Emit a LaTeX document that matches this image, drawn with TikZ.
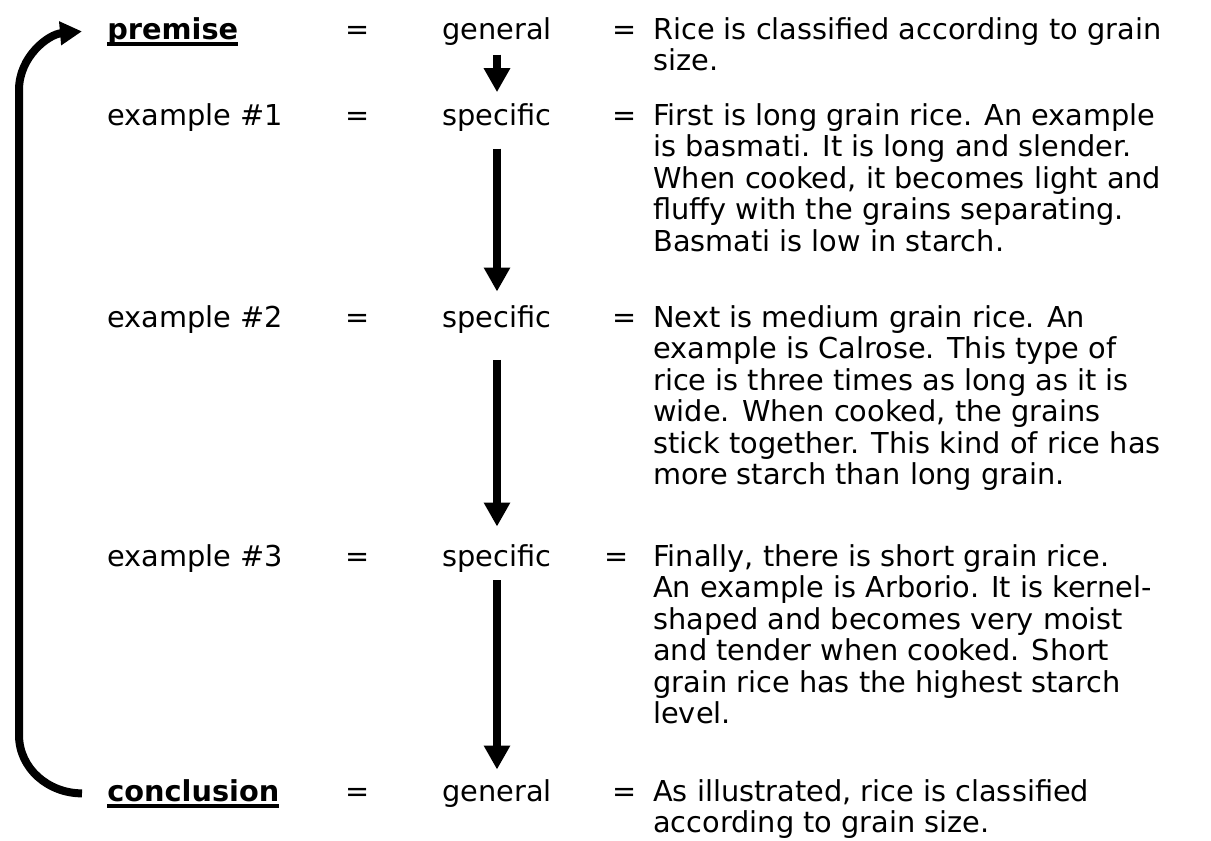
\documentclass[tikz,border=0pt]{standalone}
\usepackage{fontspec}
\setmainfont{DejaVu Sans}
\usetikzlibrary{arrows.meta,calc}

\newcommand{\undl}[1]{\setbox0\hbox{#1}\rlap{\rule[-0.23em]{\wd0}{0.12em}}\box0}

\begin{document}
\begin{tikzpicture}[x=0.75pt,y=-0.75pt,
        every node/.style={inner sep=0pt,font=\fontsize{21.6}{23.6}\selectfont},
        lbl/.style={anchor=base west},
        eqs/.style={anchor=base},
        mid/.style={anchor=base},
        txt/.style={anchor=north west,align=left},
        down/.style={line width=6pt,-{Triangle[length=18pt,width=18.75pt]}},
        back/.style={line width=6pt,-{Triangle[length=16.5pt,width=17pt]}}]
    \useasboundingbox (0,0) rectangle (1211,840);

    % left column
    \node[lbl] (prem)  at (107,39)  {\undl{\textbf{premise}}};
    \node[lbl] (ex1)   at (107,125) {example \#1};
    \node[lbl] (ex2)   at (107,327) {example \#2};
    \node[lbl] (ex3)   at (107,566) {example \#3};
    \node[lbl] (concl) at (107,801) {\undl{\textbf{conclusion}}};

    % first equals signs
    \node[eqs] (ea1) at (358,39)  {=};
    \node[eqs] (ea2) at (358,125) {=};
    \node[eqs] (ea3) at (358,327) {=};
    \node[eqs] (ea4) at (358,566) {=};
    \node[eqs] (ea5) at (358,801) {=};

    % general / specific
    \node[mid] (gen1)  at (497,39)  {general};
    \node[mid] (spec1) at (497,125) {specific};
    \node[mid] (spec2) at (497,327) {specific};
    \node[mid] (spec3) at (497,566) {specific};
    \node[mid] (gen5)  at (497,801) {general};

    % second equals signs
    \node[eqs] (eb1) at (625,39)  {=};
    \node[eqs] (eb2) at (625,125) {=};
    \node[eqs] (eb3) at (625,327) {=};
    \node[eqs] (eb4) at (617,566) {=};
    \node[eqs] (eb5) at (625,801) {=};

    % right column (top of first line = baseline - 22)
    \node[txt] (t1) at (653,17) {Rice is classified according to grain\\size.};
    \node[txt] (t2) at (653,103) {First is long grain rice. An example\\is basmati. It is long and slender.\\When cooked, it becomes light and\\fluffy with the grains separating.\\Basmati is low in starch.};
    \node[txt] (t3) at (653,305) {Next is medium grain rice. An\\example is Calrose. This type of\\rice is three times as long as it is\\wide. When cooked, the grains\\stick together. This kind of rice has\\more starch than long grain.};
    \node[txt] (t4) at (653,544) {Finally, there is short grain rice.\\An example is Arborio. It is kernel-\\shaped and becomes very moist\\and tender when cooked. Short\\grain rice has the highest starch\\level.};
    \node[txt] (t5) at (653,779) {As illustrated, rice is classified\\according to grain size.};

    % arrows down the middle
    \draw[down,shorten <=7pt,shorten >=8pt] (gen1.south) -- (spec1.north);
    \draw[down,shorten <=13pt,shorten >=10pt] (spec1.south) -- (spec2.north);
    \draw[down,shorten <=20pt,shorten >=13pt] (spec2.south) -- (spec3.north);
    \draw[down,shorten <=6pt,shorten >=7pt] (spec3.south) -- (gen5.north);

    % loop back from conclusion to premise
    \draw[back] ($(concl.west)+(-25,0)$) to[out=180,in=-90] (19,735)
        -- (19,90) to[out=90,in=185] ($(prem.west)+(-25,0)$);
\end{tikzpicture}
\end{document}
